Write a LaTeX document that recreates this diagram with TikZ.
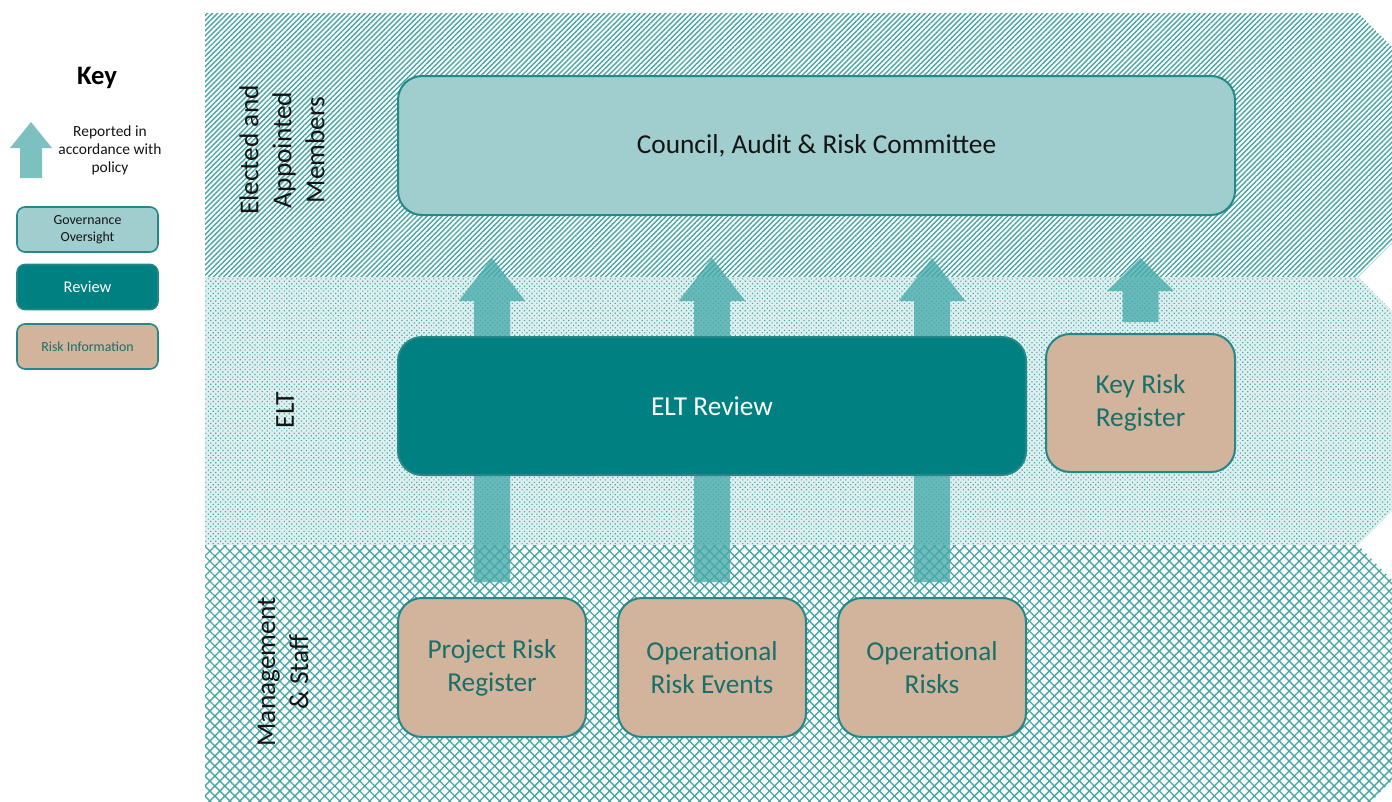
\documentclass[tikz,border=0pt]{standalone}
\usepackage{fontspec}
\setmainfont{Carlito}
\usetikzlibrary{patterns.meta,calc}

\definecolor{tealdark}{RGB}{0,128,128}
\definecolor{teallight}{RGB}{160,205,205}
\definecolor{tealline}{RGB}{36,136,136}
\definecolor{hatch}{RGB}{70,165,165}
\definecolor{hatchpale}{RGB}{222,239,239}
\definecolor{risktan}{RGB}{210,179,155}
\definecolor{risktext}{RGB}{25,112,106}
\definecolor{arrowfill}{RGB}{72,170,170}
\definecolor{keyarrow}{RGB}{125,192,192}
\definecolor{labeltext}{RGB}{20,20,20}

% block arrow "reported in accordance with policy":
% #1 source node, #2 gap above source (px), #3 target node,
% #4 gap below target (px), #5 head length (pt)
\newcommand\reportarrow[5]{%
  \fill[reparrow] let \p1=($(#1.north)+(0,-#2)$), \p2=($(#3.south)+(0,#4)$) in
    (\x1-13.5pt,\y1) -- (\x1-13.5pt,\y2-#5) -- (\x1-25pt,\y2-#5) -- (\x1,\y2)
    -- (\x1+25pt,\y2-#5) -- (\x1+13.5pt,\y2-#5) -- (\x1+13.5pt,\y1) -- cycle;}

\begin{document}
\begin{tikzpicture}[x=0.75pt,y=-0.75pt,
  bigtext/.style={font=\fontsize{20.5}{24.75}\selectfont},
  box/.style={draw=tealline, line width=1.5pt, rounded corners=18pt,
    align=center, inner sep=0pt, bigtext},
  govbox/.style={box, fill=teallight, text=labeltext},
  revbox/.style={box, fill=tealdark, text=white},
  riskbox/.style={box, fill=risktan, text=risktext},
  keybox/.style={draw=tealline, line width=1.2pt, rounded corners=6pt,
    align=center, inner sep=0pt, minimum width=105.75pt, minimum height=33.75pt},
  sidelabel/.style={rotate=90, align=center, bigtext, text=labeltext},
  reparrow/.style={fill=arrowfill, fill opacity=0.78},
  band top/.style={fill=white, pattern={Lines[angle=45,distance=2.7pt,line width=1.05pt]}, pattern color=hatch},
  band mid/.style={fill=hatchpale},
  band dots/.style={pattern={Dots[radius=0.62pt,distance=2.6pt,angle=45]}, pattern color=hatch},
  band low a/.style={pattern={Lines[angle=45,distance=5.3pt,line width=1pt]}, pattern color=hatch},
  band low b/.style={pattern={Lines[angle=-45,distance=5.3pt,line width=1pt]}, pattern color=hatch},
]
\useasboundingbox (0,0) rectangle (1392,801);

% ---- three chevron bands ----
\begin{scope}
  \clip (0,0) rectangle (1392,801);
  \path[band top] (205,13) -- (1358,13) -- (1490,145) -- (1358,277) -- (205,277) -- cycle;
  \path[band mid] (205,277) -- (1358,277) -- (1492,411) -- (1358,545) -- (205,545) -- cycle;
  \path[band dots] (205,277) -- (1358,277) -- (1492,411) -- (1358,545) -- (205,545) -- cycle;
  \path[fill=white] (205,545) -- (1358,545) -- (1490,680) -- (1358,815) -- (205,815) -- cycle;
  \path[band low a] (205,545) -- (1358,545) -- (1490,680) -- (1358,815) -- (205,815) -- cycle;
  \path[band low b] (205,545) -- (1358,545) -- (1490,680) -- (1358,815) -- (205,815) -- cycle;
\end{scope}

% ---- band labels ----
\node[sidelabel] (lblmembers) at (282,150) {Elected and\\Appointed\\Members};
\node[sidelabel] (lblelt) at (285,410) {ELT};
\node[sidelabel] (lblstaff) at (283,672) {Management\\\& Staff};

% ---- boxes ----
\node[govbox, minimum width=627.75pt, minimum height=104.25pt] (council) at (816.5,145.5) {Council, Audit \& Risk Committee};
\node[riskbox, minimum width=141pt, minimum height=104.25pt] (prr) at (492,667.5) {Project Risk\\Register};
\node[riskbox, minimum width=141pt, minimum height=104.25pt] (ore) at (712,667.5) {Operational\\Risk Events};
\node[riskbox, minimum width=141pt, minimum height=104.25pt] (ors) at (932,667.5) {Operational\\Risks};
\node[riskbox, minimum width=141.75pt, minimum height=103.5pt] (krr) at (1140.5,403) {Key Risk\\Register};

% ---- reporting arrows (behind the ELT review box) ----
\reportarrow{prr}{15}{council}{42}{32.25pt}
\reportarrow{ore}{15}{council}{42}{32.25pt}
\reportarrow{ors}{15}{council}{42}{32.25pt}
\reportarrow{krr}{11}{council}{42}{24.75pt}

\node[revbox, minimum width=471pt, minimum height=103.5pt] (elt) at (712,406) {ELT Review};

% ---- key ----
\node[font=\fontsize{20}{24}\selectfont\bfseries, text=black] (keytitle) at (97,78) {Key};
\fill[keyarrow] (20,178) -- (20,148) -- (10,148) -- (31,122) -- (52,148) -- (42,148) -- (42,178) -- cycle;
\node[align=center, font=\fontsize{11.6}{13.5}\selectfont, text=labeltext] (keyreport) at (110,150) {Reported in\\accordance with\\policy};
\node[keybox, fill=teallight, text=labeltext, font=\fontsize{10.4}{12.75}\selectfont] (keygov) at (87.5,229.5) {Governance\\Oversight};
\node[keybox, fill=tealdark, text=white, font=\fontsize{12.3}{14}\selectfont] (keyrev) at (87.5,287) {Review};
\node[keybox, fill=risktan, text=risktext, font=\fontsize{10.4}{12.75}\selectfont] (keyrisk) at (87.5,346.5) {Risk Information};
\end{tikzpicture}
\end{document}
